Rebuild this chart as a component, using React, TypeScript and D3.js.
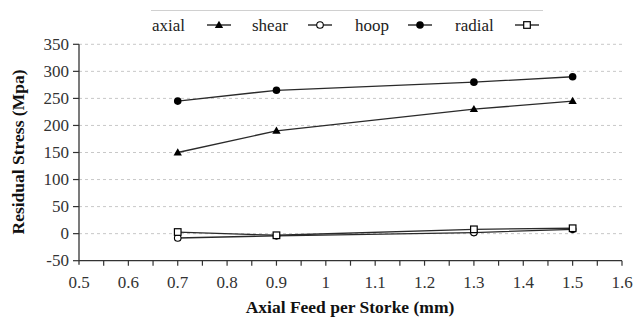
import React from "react";
import * as d3 from "d3";

const feeds = [0.7, 0.9, 1.3, 1.5];
const axial = [150, 190, 230, 245];
const shear = [-8, -4, 2, 8];
const hoop = [245, 265, 280, 290];
const radial = [3, -3, 8, 10];
const yTicks = [-50, 0, 50, 100, 150, 200, 250, 300, 350];
const xTicks = [0.5, 0.6, 0.7, 0.8, 0.9, 1, 1.1, 1.2, 1.3, 1.4, 1.5, 1.6];

const seriesNames = ["axial", "shear", "hoop", "radial"];
const seriesValues = [axial, shear, hoop, radial];

const W = 635;
const H = 319;
const FONT = "'Times New Roman', 'Liberation Serif', Tinos, 'Nimbus Roman', 'DejaVu Serif', 'Noto Serif', Times, serif";

function Marker({ kind, x, y }: { kind: string; x: number; y: number }) {
  if (kind === "axial") {
    const tri = d3.symbol().type(d3.symbolTriangle).size(30)() as string;
    return <path d={tri} transform={`translate(${x},${y + 0.5})`} fill="#000" />;
  }
  if (kind === "shear") {
    return <circle cx={x} cy={y} r={3.3} fill="#fff" stroke="#000" strokeWidth={1.1} />;
  }
  if (kind === "hoop") {
    return <circle cx={x} cy={y} r={3.8} fill="#000" />;
  }
  return <rect x={x - 3.3} y={y - 3.3} width={6.6} height={6.6} fill="#fff" stroke="#000" strokeWidth={1.2} />;
}

export default function App() {
  const x = d3.scaleLinear().domain([0.5, 1.6]).range([79, 622]);
  const y = d3.scaleLinear().domain([-50, 350]).range([260.7, 44.3]);
  const minorX = d3.range(0.55, 1.6001, 0.05);

  const line = d3
    .line<number>()
    .x((_, i) => x(feeds[i]))
    .y((d) => y(d));

  const legendX = [152, 252, 355, 455];
  const legendMarkX = [219, 320, 420, 527];
  const txt = { fontFamily: FONT };

  return (
    <svg width={W} height={H} style={{ position: "absolute", left: 0, top: 0, background: "#fff", fontFamily: FONT }}>
      {/* grid */}
      {yTicks.slice(1).map((t) => (
        <line key={t} x1={x(0.5)} x2={x(1.6)} y1={y(t)} y2={y(t)} stroke="#c8c8c8" strokeDasharray="3,3" strokeWidth={1} />
      ))}

      {/* legend */}
      <line x1={151} x2={543} y1={10.5} y2={10.5} stroke="#d0d0d0" strokeWidth={1} />
      {seriesNames.map((n, i) => (
        <g key={n}>
          <text x={legendX[i]} y={31} fontSize={17} fill="#222" style={txt}>{n}</text>
          <line x1={legendMarkX[i] - 12} x2={legendMarkX[i] + 12} y1={25} y2={25} stroke="#000" strokeWidth={1.2} />
          <Marker kind={n} x={legendMarkX[i]} y={25} />
        </g>
      ))}

      {/* axes */}
      <line x1={79} x2={79} y1={y(350)} y2={y(-50) + 4} stroke="#333" strokeWidth={1.3} />
      <line x1={79} x2={x(1.6)} y1={y(-50)} y2={y(-50)} stroke="#333" strokeWidth={1.3} />
      {yTicks.map((t) => (
        <g key={t}>
          <line x1={73} x2={79} y1={y(t)} y2={y(t)} stroke="#333" strokeWidth={1.2} />
          <text x={69} y={y(t) + 5.5} textAnchor="end" fontSize={17} fill="#333" style={txt}>{t}</text>
        </g>
      ))}
      {minorX.map((t) => (
        <line key={t} x1={x(t)} x2={x(t)} y1={y(-50)} y2={y(-50) + 5} stroke="#333" strokeWidth={1.2} />
      ))}
      {xTicks.map((t) => (
        <text key={t} x={x(t)} y={288} textAnchor="middle" fontSize={17} fill="#333" style={txt}>{t}</text>
      ))}

      <text x={350} y={313} textAnchor="middle" fontSize={17.5} fontWeight="bold" fill="#111" style={txt}>Axial Feed per Storke (mm)</text>
      <text transform="translate(24,152) rotate(-90)" textAnchor="middle" fontSize={17.5} fontWeight="bold" fill="#111" style={txt}>Residual Stress (Mpa)</text>

      {/* series */}
      {seriesValues.map((vals, s) => (
        <g key={seriesNames[s]}>
          <path d={line(vals) as string} fill="none" stroke="#2a2a2a" strokeWidth={1.3} />
          {vals.map((v, i) => (
            <Marker key={i} kind={seriesNames[s]} x={x(feeds[i])} y={y(v)} />
          ))}
        </g>
      ))}
    </svg>
  );
}
